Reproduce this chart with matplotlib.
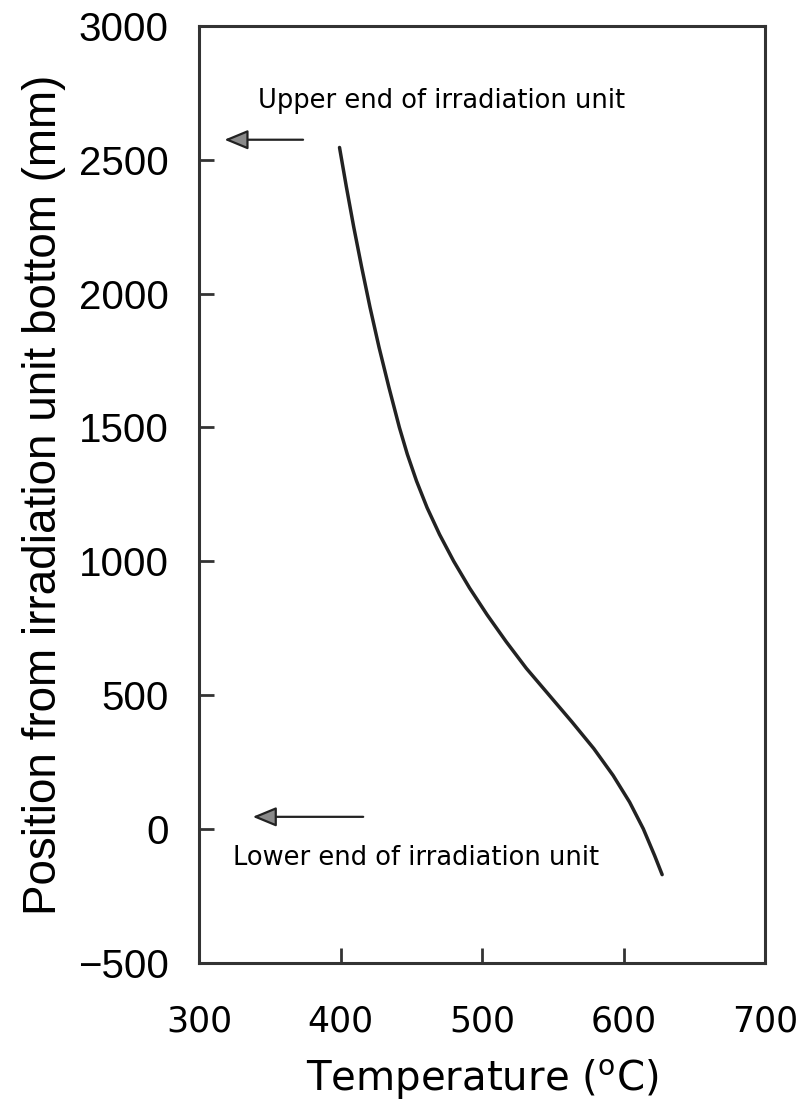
import matplotlib.pyplot as plt

# temperature profile along the irradiation unit
position = [2546, 2400, 2250, 2100, 1950, 1800, 1650, 1500, 1400, 1300,
            1200, 1100, 1000, 900, 800, 700, 600, 500, 400, 300,
            200, 100, 0, -100, -171]
temperature = [399.3, 404.1, 409.3, 414.9, 420.8, 427.2, 434.2, 441.6, 447.2, 453.7,
               461.2, 470.0, 480.0, 491.2, 503.6, 517.0, 531.3, 547.4, 563.5, 579.0,
               592.6, 604.3, 614.0, 622.0, 627.3]

x_ticks = [300, 400, 500, 600, 700]
y_ticks = [-500, 0, 500, 1000, 1500, 2000, 2500, 3000]

fig = plt.figure(figsize=(8.08, 11.15), dpi=100)
ax = fig.add_axes([0.2463, 0.1366, 0.7005, 0.8401])

ax.plot(temperature, position, color='#222222', linewidth=2.5,
        solid_capstyle='round', solid_joinstyle='round')

ax.set_xlim(300, 700)
ax.set_ylim(-500, 3000)
ax.set_xticks(x_ticks)
ax.set_yticks(y_ticks)
ax.set_yticklabels([str(v).replace('-', '\u2212') for v in y_ticks])

for s in ax.spines.values():
    s.set_linewidth(2.2)
    s.set_color('#333333')
ax.tick_params(direction='in', length=11, width=2, color='#333333')
ax.tick_params(axis='y', pad=22, labelsize=29)
ax.tick_params(axis='x', pad=30, labelsize=25)
for lbl in ax.get_yticklabels():
    lbl.set_family('Liberation Sans')

ax.set_ylabel('Position from irradiation unit bottom (mm)', fontsize=33,
              family='Liberation Sans', labelpad=8)
ax.set_xlabel('Temperature ($^{\\mathrm{o}}$C)', fontsize=29, labelpad=14)

# arrows marking the ends of the irradiation unit
arrow_style = dict(arrowstyle='-|>,head_length=1.45,head_width=0.6',
                   ec='#222222', fc='#8a8a8a', lw=1.6)
ax.annotate('', xy=(316, 2575), xytext=(375.5, 2575), arrowprops=arrow_style)
ax.annotate('', xy=(336, 45), xytext=(418, 45), arrowprops=arrow_style)

ax.text(341.8, 2695, 'Upper end of irradiation unit', fontsize=18.5,
        va='baseline', ha='left')
ax.text(324, -134, 'Lower end of irradiation unit', fontsize=18.5,
        va='baseline', ha='left')

fig.savefig('out.png', dpi=100)
